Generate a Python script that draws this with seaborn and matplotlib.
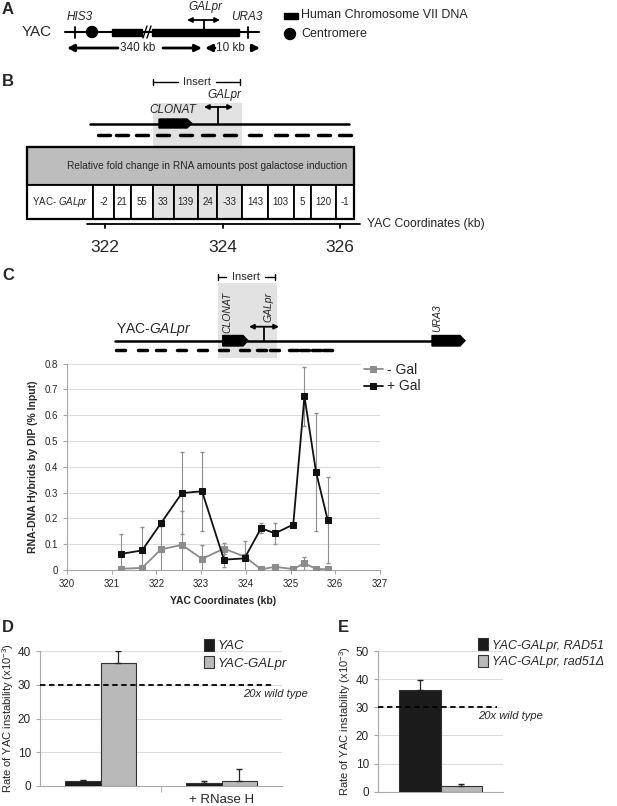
import numpy as np
import pandas as pd
import matplotlib
matplotlib.use('Agg')
import matplotlib.pyplot as plt
import seaborn as sns
from matplotlib.patches import Rectangle, Circle, Polygon

sns.set_style('white')
plt.rcParams['font.family'] = ['Liberation Sans', 'DejaVu Sans']
plt.rcParams['mathtext.fontset'] = 'custom'
plt.rcParams['mathtext.rm'] = 'Liberation Sans'
plt.rcParams['mathtext.it'] = 'Liberation Sans:italic'
plt.rcParams['mathtext.bf'] = 'Liberation Sans:bold'

## DATOS
## B. cambio relativo de ARN por celda (coordenadas en kb)
b_ticks = [322, 324, 326]
b_bordes = [321.80, 322.15, 322.44, 322.82, 323.17, 323.58, 323.91, 324.34, 324.77, 325.21, 325.50, 325.94, 326.23]
fold_change = [-2, 21, 55, 33, 139, 24, -33, 143, 103, 5, 120, -1]
en_insert = [0, 0, 0, 1, 1, 1, 1, 0, 0, 0, 0, 0]

## C. hibridos ARN-ADN
coord_kb = [321.20, 321.68, 322.10, 322.57, 323.02, 323.51, 323.97, 324.34, 324.65, 325.06, 325.31, 325.57, 325.83]
mas_gal = [0.062, 0.076, 0.181, 0.298, 0.305, 0.040, 0.045, 0.162, 0.142, 0.176, 0.673, 0.379, 0.194]
mas_gal_err = [0.078, 0.090, 0.010, 0.159, 0.153, 0.030, 0.069, 0.020, 0.040, 0.005, 0.114, 0.228, 0.165]
menos_gal = [0.005, 0.008, 0.080, 0.097, 0.043, 0.083, 0.052, 0.003, 0.012, 0.004, 0.026, 0.004, 0.003]
menos_gal_err = [0.005, 0.008, 0.090, 0.133, 0.054, 0.020, 0.010, 0.003, 0.005, 0.003, 0.026, 0.004, 0.003]
c_xticks = [320, 321, 322, 323, 324, 325, 326, 327]

## D. tasa de inestabilidad
d_grupos = ['', '+ RNase H']
d_cepas = ['YAC', 'YAC-GALpr']
d_grupo = ['', '', '+ RNase H', '+ RNase H']
d_cepa = ['YAC', 'YAC-GALpr', 'YAC', 'YAC-GALpr']
d_tasa = [1.5, 36.3, 0.9, 1.5]
d_err = [0.3, 3.6, 0.5, 3.4]

## E. tasa con / sin RAD51
e_grupos = ['']
e_cepas = ['YAC-GALpr, RAD51', 'YAC-GALpr, rad51Δ']
e_grupo = ['', '']
e_cepa = ['YAC-GALpr, RAD51', 'YAC-GALpr, rad51Δ']
e_tasa = [36.3, 2.0]
e_err = [3.4, 0.6]

umbral_20x = 30

W, H = 617, 806
fx = lambda px: px / W
fy = lambda py: 1 - py / H

fig = plt.figure(figsize=(6.17, 8.06), dpi=100)

## capa de esquemas en pixeles
ax0 = fig.add_axes([0, 0, 1, 1])
ax0.set_xlim(0, W)
ax0.set_ylim(H, 0)
ax0.axis('off')

def flecha(x0, x1, y, estilo='-|>', lw=2, ms=10):
    ax0.annotate('', xy=(x1, y), xytext=(x0, y),
                 arrowprops=dict(arrowstyle=estilo, lw=lw, color='k', mutation_scale=ms,
                                 shrinkA=0, shrinkB=0))

for letra, x, y in [('A', 2, 9), ('B', 2, 82), ('C', 2, 275), ('D', 2, 627), ('E', 338, 627)]:
    ax0.text(x, y, letra, fontsize=12, fontweight='bold', va='center', ha='left')

## A
ax0.text(22, 32, 'YAC', fontsize=11, va='center', ha='left')
ax0.plot([65, 259], [32, 32], color='k', lw=1.5)
for xt in [74.5, 248]:
    ax0.plot([xt, xt], [26.5, 37.5], color='k', lw=1.3)
ax0.add_patch(Circle((92, 32), 5.5, color='k'))
ax0.add_patch(Rectangle((112, 29), 30, 6.5, color='k'))
ax0.add_patch(Rectangle((152, 29), 87, 6.5, color='k'))
ax0.plot([143, 147], [38, 26], color='k', lw=1)
ax0.plot([147, 151], [38, 26], color='k', lw=1)
ax0.plot([204, 204], [32, 20], color='k', lw=1.3)
flecha(187, 220, 20, '<|-|>', lw=1.3, ms=7)
ax0.text(205, 7, 'GALpr', fontsize=8.5, style='italic', ha='center', va='center')
ax0.text(80, 17, 'HIS3', fontsize=8.5, style='italic', ha='center', va='center')
ax0.text(247, 17, 'URA3', fontsize=8.5, style='italic', ha='center', va='center')
flecha(118, 67, 48)
flecha(163, 202, 48)
ax0.text(138, 48, '340 kb', fontsize=8.5, ha='center', va='center')
flecha(215, 205, 48)
flecha(251, 260, 48)
ax0.text(230, 48, '10 kb', fontsize=8.5, ha='center', va='center')
ax0.add_patch(Rectangle((284, 12.5), 14, 6, color='k'))
ax0.text(301, 15.5, 'Human Chromosome VII DNA', fontsize=9, va='center')
ax0.add_patch(Circle((290, 34), 5.5, color='k'))
ax0.text(301, 34, 'Centromere', fontsize=9, va='center')

## B
kb_px = lambda kb: 105 + (kb - 322) * 58.75
gris_claro = '#e2e2e2'
x_ins0, x_ins1 = kb_px(b_bordes[3]), kb_px(b_bordes[7])
ax0.add_patch(Rectangle((x_ins0, 103), x_ins1 - x_ins0, 44, color=gris_claro, lw=0))
ax0.plot([153, 178], [82, 82], color='k', lw=1)
ax0.plot([216, 240], [82, 82], color='k', lw=1)
ax0.plot([153, 153], [79, 85], color='k', lw=1)
ax0.plot([240, 240], [79, 85], color='k', lw=1)
ax0.text(197, 82, 'Insert', fontsize=8, ha='center', va='center')
ax0.plot([90, 349], [123.5, 123.5], color='k', lw=1.8)
ax0.add_patch(Polygon([(159, 119), (187, 119), (192, 123.5), (187, 128), (159, 128)], color='k'))
ax0.text(173, 110, 'CLONAT', fontsize=8.5, style='italic', ha='center', va='center')
ax0.plot([218, 218], [123.5, 107], color='k', lw=1.3)
flecha(204, 233, 107, '<|-|>', lw=1.3, ms=7)
ax0.text(224, 95, 'GALpr', fontsize=8.5, style='italic', ha='center', va='center')
for i in range(len(fold_change)):
    xc = (kb_px(b_bordes[i]) + kb_px(b_bordes[i + 1])) / 2
    ax0.plot([xc - 6, xc + 6], [135, 135], color='k', lw=2.5)
# tabla
ax0.add_patch(Rectangle((26.7, 147), kb_px(b_bordes[-1]) - 26.7, 38, facecolor='#bdbdbd', edgecolor='k', lw=1.5))
ax0.text(kb_px(b_bordes[-1]) - 6, 166, 'Relative fold change in RNA amounts post galactose induction',
         fontsize=7.3, ha='right', va='center')
ax0.add_patch(Rectangle((26.7, 185), kb_px(b_bordes[0]) - 26.7, 34, facecolor='white', edgecolor='k', lw=1.3))
ax0.text((26.7 + kb_px(b_bordes[0])) / 2, 202, r'YAC- $\mathit{GALpr}$', fontsize=7, ha='center', va='center')
for i, val in enumerate(fold_change):
    x0, x1 = kb_px(b_bordes[i]), kb_px(b_bordes[i + 1])
    ax0.add_patch(Rectangle((x0, 185), x1 - x0, 34, facecolor=gris_claro if en_insert[i] else 'white',
                            edgecolor='k', lw=1.3))
    ax0.text((x0 + x1) / 2, 202, str(val), fontsize=7, ha='center', va='center')
ax0.add_patch(Rectangle((26.7, 147), kb_px(b_bordes[-1]) - 26.7, 72, fill=False, edgecolor='k', lw=1.6))
ax0.plot([87, 360], [224, 224], color='k', lw=1.3)
for t in b_ticks:
    ax0.plot([kb_px(t), kb_px(t)], [224, 228], color='k', lw=1.3)
    ax0.text(kb_px(t), 247, str(t), fontsize=12.5, ha='center', va='center')
ax0.text(367, 224, 'YAC Coordinates (kb)', fontsize=8.7, ha='left', va='center')

## C esquema
c_px = lambda kb: 67 + (kb - 320) * 313 / 7
ax0.add_patch(Rectangle((218, 283), 59, 75, color=gris_claro, lw=0))
ax0.plot([218, 226], [276.7, 276.7], color='k', lw=1)
ax0.plot([265, 274.5], [276.7, 276.7], color='k', lw=1)
ax0.plot([218, 218], [273.5, 280], color='k', lw=1)
ax0.plot([274.5, 274.5], [273.5, 280], color='k', lw=1)
ax0.text(245.5, 276.7, 'Insert', fontsize=8, ha='center', va='center')
ax0.plot([115, 433], [340.7, 340.7], color='k', lw=1.8)
ax0.add_patch(Polygon([(222.7, 335.5), (243, 335.5), (248, 340.7), (243, 346), (222.7, 346)], color='k'))
ax0.add_patch(Polygon([(432, 335.5), (460, 335.5), (465, 340.7), (460, 346), (432, 346)], color='k'))
ax0.plot([263.5, 263.5], [340.7, 326.7], color='k', lw=1.3)
flecha(249, 279, 326.7, '<|-|>', lw=1.3, ms=7)
ax0.text(227.5, 333, 'CLONAT', fontsize=7.5, style='italic', rotation=90, ha='center', va='bottom')
ax0.text(268, 322, 'GALpr', fontsize=7.5, style='italic', rotation=90, ha='center', va='bottom')
ax0.text(437, 332, 'URA3', fontsize=7.5, style='italic', rotation=90, ha='center', va='bottom')
ax0.text(116, 329, r'YAC-$\mathit{GALpr}$', fontsize=10, ha='left', va='center')
for kb in coord_kb:
    ax0.plot([c_px(kb) - 4.5, c_px(kb) + 4.5], [350, 350], color='k', lw=2.5)

## C grafico
axC = fig.add_axes([fx(67), fy(570), fx(380) - fx(67), fy(363.5) - fy(570)])
axC.errorbar(coord_kb, menos_gal, yerr=menos_gal_err, fmt='none', ecolor='#8f8f8f', elinewidth=0.8, capsize=1.5, zorder=2)
axC.errorbar(coord_kb, mas_gal, yerr=mas_gal_err, fmt='none', ecolor='#8f8f8f', elinewidth=0.8, capsize=1.5, zorder=2)
sns.lineplot(x=coord_kb, y=menos_gal, color='#8c8c8c', marker='s', markersize=4.5, markeredgecolor='#8c8c8c',
             lw=1.3, label='- Gal', ax=axC, zorder=3)
sns.lineplot(x=coord_kb, y=mas_gal, color='#111111', marker='s', markersize=4.5, markeredgecolor='#111111',
             lw=1.3, label='+ Gal', ax=axC, zorder=4)
axC.set_xlim(320, 327)
axC.set_ylim(0, 0.8)
axC.set_xticks(c_xticks)
axC.set_yticks(np.arange(0, 0.81, 0.1))
axC.set_yticklabels(['0'] + ['%.1f' % v for v in np.arange(0.1, 0.81, 0.1)])
axC.yaxis.grid(True, color='#dcdcdc', lw=0.8)
for s in ['top', 'right']:
    axC.spines[s].set_visible(False)
for s in ['left', 'bottom']:
    axC.spines[s].set_color('#a8a8a8')
axC.tick_params(labelsize=7, length=3, color='#a8a8a8', left=True, bottom=True)
axC.set_xlabel('YAC Coordinates (kb)', fontsize=7.5, fontweight='bold', labelpad=5)
axC.set_ylabel('RNA-DNA Hybrids by DIP (% Input)', fontsize=7.5, fontweight='bold', labelpad=5)
axC.legend(loc='upper left', bbox_to_anchor=(fx(354), fy(353)), bbox_transform=fig.transFigure,
           fontsize=10, frameon=True, facecolor='white', edgecolor='none', framealpha=1,
           handlelength=1.4, handletextpad=0.3, labelspacing=0.2, borderpad=0.2)


def barras_rate(ax, df, grupos, cepas, ancho, ymax, ticks, xmax_linea, x_texto, y_texto, leg_x, leg_size, lab_x):
    sns.barplot(data=df, x='grupo', y='tasa', hue='cepa', order=grupos, hue_order=cepas,
                palette=['#1b1b1b', '#b9b9b9'], saturation=1, width=ancho,
                edgecolor='#333333', linewidth=0.8, ax=ax, zorder=3)
    n = len(cepas)
    for _, fila in df.iterrows():
        xc = grupos.index(fila['grupo']) + (cepas.index(fila['cepa']) - (n - 1) / 2) * ancho / n
        ax.errorbar(xc, fila['tasa'], yerr=[[0], [fila['err']]], fmt='none',
                    ecolor='#222222', elinewidth=0.9, capsize=2, zorder=4)
    ax.axhline(umbral_20x, xmin=0, xmax=xmax_linea, ls=(0, (3, 2)), color='k', lw=1.3, zorder=5)
    ax.text(x_texto, y_texto, '20x wild type', fontsize=8, style='italic',
            transform=ax.get_yaxis_transform(), va='center')
    ax.set_xlim(-0.5, len(grupos) - 0.5)
    ax.set_ylim(0, ymax)
    ax.set_yticks(ticks)
    ax.set_xlabel('')
    ax.set_ylabel('Rate of YAC instability (x10$^{-3}$)', fontsize=8)
    ax.yaxis.set_label_coords(lab_x, 0.5)
    ax.tick_params(axis='y', labelsize=8.5, length=3, color='#a8a8a8', left=True)
    ax.yaxis.grid(True, color='#dcdcdc', lw=0.8)
    ax.set_axisbelow(True)
    for s in ['top', 'right']:
        ax.spines[s].set_visible(False)
    for s in ['left', 'bottom']:
        ax.spines[s].set_color('#a8a8a8')
    h, l = ax.get_legend_handles_labels()
    ax.legend(h, l, loc='upper left', bbox_to_anchor=(fx(leg_x), fy(632)), bbox_transform=fig.transFigure,
              prop={'style': 'italic', 'size': leg_size}, frameon=False, handlelength=0.8, handleheight=1.1,
              handletextpad=0.3, labelspacing=0.25, borderpad=0)


## D
df_d = pd.DataFrame({'grupo': d_grupo, 'cepa': d_cepa, 'tasa': d_tasa, 'err': d_err})
axD = fig.add_axes([fx(40), fy(786), fx(282) - fx(40), fy(651) - fy(786)])
barras_rate(axD, df_d, d_grupos, d_cepas, 0.58, 40, [0, 10, 20, 30, 40], 0.96, 0.84, 27.3, 197, 9.5,
            (16 - 40) / 242)
axD.set_xticks([0.5], minor=True)
axD.tick_params(axis='x', which='minor', length=4, color='#a8a8a8', bottom=True)
axD.tick_params(axis='x', which='major', length=0, labelsize=9.5, pad=6)

## E
df_e = pd.DataFrame({'grupo': e_grupo, 'cepa': e_cepa, 'tasa': e_tasa, 'err': e_err})
axE = fig.add_axes([fx(378), fy(791.7), fx(503) - fx(378), fy(651) - fy(791.7)])
barras_rate(axE, df_e, e_grupos, e_cepas, 0.66, 50, [0, 10, 20, 30, 40, 50], 0.95, 0.8, 26.9, 472, 9,
            (353 - 378) / 125)
axE.set_xticks([])

fig.savefig('out.png', dpi=100)
